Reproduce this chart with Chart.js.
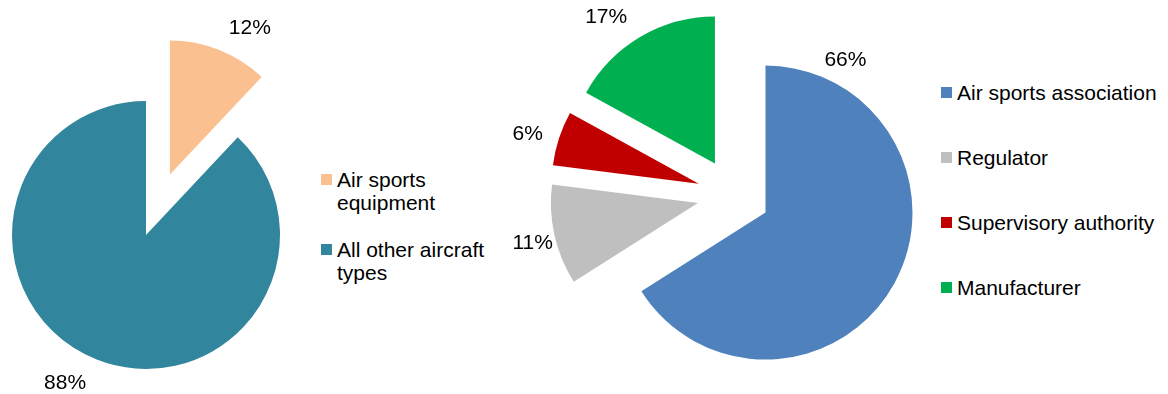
<!DOCTYPE html>
<html>
<head>
<meta charset="utf-8">
<script src="https://cdn.jsdelivr.net/npm/chart.js@4/dist/chart.umd.min.js"></script>
<style>
  body { margin: 0; background: #fff; width: 1168px; height: 394px; overflow: hidden; position: relative;
         font-family: "Liberation Sans", Arial, sans-serif; }
  .box { position: absolute; top: 0; height: 394px; }
  .legend { position: absolute; font-size: 21px; line-height: 23px; color: #000; }
  .item { display: flex; align-items: flex-start; }
  .sq { width: 11px; height: 11px; margin-top: 6px; margin-right: 5px; flex: none; }
</style>
</head>
<body>
<div class="box" style="left:0;width:300px"><canvas id="typeChart"></canvas></div>
<div class="box" style="left:500px;width:440px"><canvas id="sourceChart"></canvas></div>
<div class="legend" id="typeLegend" style="left:321px;top:168px;width:175px"></div>
<div class="legend" id="sourceLegend" style="left:941px;top:81px"></div>

<script>
// aircraft types
const typeLabels = ["Air sports equipment", "All other aircraft types"];
const typeShares = [12, 88];
const typeColors = ["#FAC090", "#31859C"];

// who reported
const sourceLabels = ["Air sports association", "Regulator", "Supervisory authority", "Manufacturer"];
const sourceShares = [66, 11, 6, 17];
const sourceColors = ["#4F81BD", "#BFBFBF", "#C00000", "#00B050"];

const FONT = '"Liberation Sans", Arial, sans-serif';

// pull slices out from the centre (like excel's point explosion)
const explode = {
  id: "explode",
  afterDatasetsUpdate(chart, args, opts) {
    const area = chart.chartArea;
    const cx = (area.left + area.right) / 2;
    const cy = (area.top + area.bottom) / 2;
    chart.getDatasetMeta(0).data.forEach((arc, i) => {
      const d = opts.dist[i] || 0;
      const mid = (arc.startAngle + arc.endAngle) / 2;
      arc.x = cx + Math.cos(mid) * d;
      arc.y = cy + Math.sin(mid) * d;
    });
  }
};

// percentage labels outside the slices
const pctLabels = {
  id: "pctLabels",
  afterDatasetsDraw(chart, args, opts) {
    const ctx = chart.ctx;
    const values = chart.data.datasets[0].data;
    ctx.save();
    ctx.font = "21px " + FONT;
    ctx.fillStyle = "#000";
    ctx.textAlign = "center";
    ctx.textBaseline = "middle";
    chart.getDatasetMeta(0).data.forEach((arc, i) => {
      const a = opts.angle[i] * Math.PI / 180;
      const r = arc.outerRadius + opts.gap[i];
      ctx.fillText(values[i] + "%", arc.x + Math.sin(a) * r, arc.y - Math.cos(a) * r);
    });
    ctx.restore();
  }
};

function makePie(id, labels, values, colors, radius, padding, dist, angle, gap) {
  return new Chart(document.getElementById(id), {
    type: "pie",
    data: {
      labels,
      datasets: [{ data: values, backgroundColor: colors, borderWidth: 0, clip: false }]
    },
    options: {
      responsive: true,
      maintainAspectRatio: false,
      animation: false,
      radius: radius,
      layout: { padding },
      events: [],
      plugins: {
        legend: { display: false },
        tooltip: { enabled: false },
        explode: { dist },
        pctLabels: { angle, gap }
      }
    },
    plugins: [explode, pctLabels]
  });
}

function htmlLegend(chart, el) {
  const ds = chart.data.datasets[0];
  chart.data.labels.forEach((lab, i) => {
    const item = document.createElement("div");
    item.className = "item";
    item.innerHTML = `<span class="sq" style="background:${ds.backgroundColor[i]}"></span><span>${lab}</span>`;
    el.appendChild(item);
  });
}

const typeChart = makePie("typeChart", typeLabels, typeShares, typeColors, 134,
  { top: 76, right: 8 }, [65, 0], [28.7, 208.6], [32.5, 35]);
const sourceChart = makePie("sourceChart", sourceLabels, sourceShares, sourceColors, 147,
  { left: 27, bottom: 4 }, [36.5, 36.5, 36.5, 36.5], [27.7, 256.4, 286.1, 323.3], [25, 23, 31, 35]);

const tl = document.getElementById("typeLegend");
htmlLegend(typeChart, tl);
tl.children[1].style.marginTop = "24px";

const sl = document.getElementById("sourceLegend");
htmlLegend(sourceChart, sl);
Array.from(sl.children).forEach((c, i) => { if (i) c.style.marginTop = "42px"; });
</script>
</body>
</html>
